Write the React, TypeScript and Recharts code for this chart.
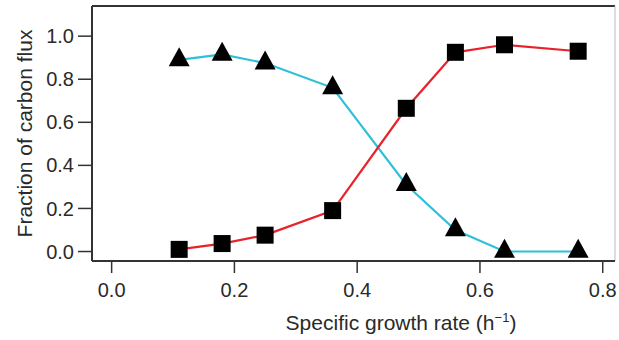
import React from "react";
import { LineChart, Line, XAxis, YAxis, ReferenceLine, Label } from "recharts";

const growthRates = [0.11, 0.18, 0.25, 0.36, 0.48, 0.56, 0.64, 0.76];
const triangleSeries = [0.89, 0.915, 0.875, 0.76, 0.31, 0.1, 0.0, 0.0];
const squareSeries = [0.01, 0.037, 0.076, 0.19, 0.665, 0.925, 0.96, 0.93];
const xTicks = [0, 0.2, 0.4, 0.6, 0.8];
const yTicks = [0, 0.2, 0.4, 0.6, 0.8, 1.0];

const data = growthRates.map((x, i) => ({ x, tri: triangleSeries[i], sq: squareSeries[i] }));

const FONT = '"Liberation Sans", Arial, Helvetica, sans-serif';
const TEXT = "#2a2a2a";

const SquareDot = (props: any) => {
  const { cx, cy } = props;
  if (cx == null || cy == null) return null;
  const s = 17;
  return <rect x={cx - s / 2} y={cy - s / 2} width={s} height={s} fill="#000" />;
};

const TriangleDot = (props: any) => {
  const { cx, cy } = props;
  if (cx == null || cy == null) return null;
  const h = 19;
  const w = 21;
  const top = cy - (2 * h) / 3;
  const bot = cy + h / 3;
  return <path d={`M${cx},${top} L${cx - w / 2},${bot} L${cx + w / 2},${bot} Z`} fill="#000" />;
};

const fmt = (v: number) => v.toFixed(1);

export default function App() {
  return (
    <div style={{ position: "absolute", left: 0, top: 0, width: 619, height: 340, background: "#fff" }}>
      <LineChart width={619} height={340} data={data} margin={{ top: 6, right: 4, bottom: 0, left: 0 }}>
        <XAxis
          dataKey="x"
          type="number"
          domain={[-0.032, 0.82]}
          ticks={xTicks}
          allowDataOverflow
          tickFormatter={fmt}
          height={79}
          tickSize={12}
          tickMargin={10}
          axisLine={{ stroke: "#333", strokeWidth: 2 }}
          tickLine={{ stroke: "#333", strokeWidth: 1.5 }}
          tick={{ fill: TEXT, fontSize: 20, fontFamily: FONT }}
        >
          <Label
            content={(p: any) => {
              const vb = p.viewBox || {};
              return (
                <text x={vb.x + 309} y={vb.y + 69} textAnchor="middle" fill={TEXT} fontSize={21} fontFamily={FONT}>
                  Specific growth rate (h
                  <tspan dy={-8} fontSize={13}>−1</tspan>
                  <tspan dy={8}>)</tspan>
                </text>
              );
            }}
          />
        </XAxis>
        <YAxis
          type="number"
          domain={[-0.044, 1.14]}
          ticks={yTicks}
          allowDataOverflow
          tickFormatter={fmt}
          width={92}
          tickSize={14}
          tickMargin={4}
          axisLine={{ stroke: "#333", strokeWidth: 2 }}
          tickLine={{ stroke: "#333", strokeWidth: 1.5 }}
          tick={{ fill: TEXT, fontSize: 20, fontFamily: FONT }}
        >
          <Label
            content={(p: any) => {
              const vb = p.viewBox || {};
              const cx = 24;
              const cy = vb.y + vb.height / 2;
              return (
                <text
                  x={cx}
                  y={cy}
                  transform={`rotate(-90 ${cx} ${cy})`}
                  textAnchor="middle"
                  dominantBaseline="central"
                  fill={TEXT}
                  fontSize={21}
                  fontFamily={FONT}
                >
                  Fraction of carbon flux
                </text>
              );
            }}
          />
        </YAxis>
        <ReferenceLine y={1.14} stroke="#333" strokeWidth={2} ifOverflow="extendDomain" />
        <ReferenceLine x={0.82} stroke="#bbb" strokeWidth={1} ifOverflow="extendDomain" />
        <Line
          dataKey="tri"
          type="linear"
          stroke="#2ec0d8"
          strokeWidth={2.2}
          dot={<TriangleDot />}
          activeDot={false}
          isAnimationActive={false}
        />
        <Line
          dataKey="sq"
          type="linear"
          stroke="#e8212b"
          strokeWidth={2.2}
          dot={<SquareDot />}
          activeDot={false}
          isAnimationActive={false}
        />
      </LineChart>
    </div>
  );
}
